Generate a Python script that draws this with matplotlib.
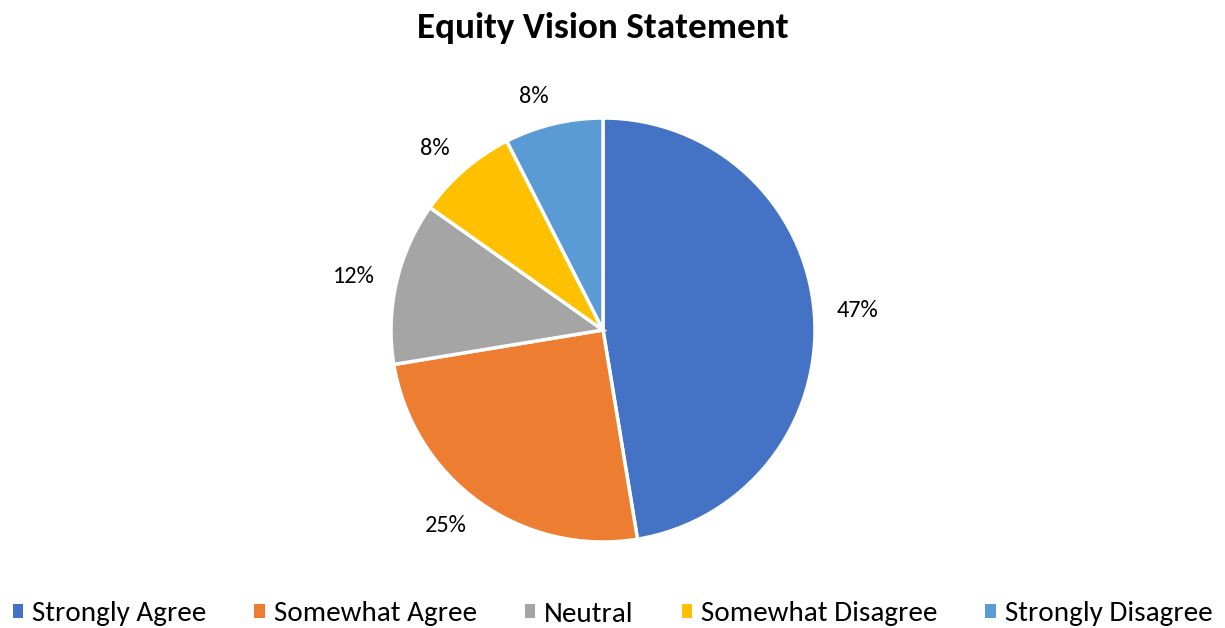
import numpy as np
import matplotlib
matplotlib.use("Agg")
import matplotlib.pyplot as plt
from matplotlib.patches import Patch

categories = ["Strongly Agree", "Somewhat Agree", "Neutral", "Somewhat Disagree", "Strongly Disagree"]
values = [47.4, 25.0, 12.4, 7.7, 7.5]
labels_pct = ["47%", "25%", "12%", "8%", "8%"]
colors = ["#4472C4", "#ED7D31", "#A5A5A5", "#FFC000", "#5B9BD5"]

plt.rcParams['font.family'] = ['Carlito', 'Open Sans', 'DejaVu Sans']

W, H = 1225, 628
fig = plt.figure(figsize=(W/100, H/100), dpi=100)
cx, cy, r = 603, 330, 212
ax = fig.add_axes([(cx - r)/W, (H - cy - r)/H, 2*r/W, 2*r/H])
wedges, _ = ax.pie(
    values, colors=colors, startangle=90, counterclock=False,
    wedgeprops=dict(edgecolor="white", linewidth=2.5), radius=1)
ax.set_xlim(-1, 1)
ax.set_ylim(-1, 1)
ax.set_aspect("equal")
ax.axis("off")

# data labels placed just outside the pie (Excel "outside end" style)
renderer = fig.canvas.get_renderer()
gap = 22 / r
for w, lab in zip(wedges, labels_pct):
    ang = np.deg2rad((w.theta1 + w.theta2) / 2)
    ux, uy = np.cos(ang), np.sin(ang)
    t = ax.text(0, 0, lab, fontsize=17.5, color="#000000", ha="center", va="center")
    bb = t.get_window_extent(renderer)
    hw, hh = bb.width / 2 / r, bb.height / 2 / r * 0.6
    d = 1 + gap
    t.set_position((d * ux + hw * np.sign(ux), d * uy + hh * uy))

fig.text(cx/W, 1 - 28/H, "Equity Vision Statement", ha="center", va="center",
         fontsize=26.7, fontweight="bold", color="#000000")

handles = [Patch(facecolor=c, edgecolor="none") for c in colors]
fig.legend(handles, categories, loc="center", bbox_to_anchor=(0.5, 1 - 614/H),
           ncol=5, frameon=False, fontsize=21, handlelength=0.36, handleheight=0.36,
           handletextpad=0.3, columnspacing=1.65, labelcolor="#000000",
           borderaxespad=0, borderpad=0)

fig.savefig("out.png", dpi=100)
